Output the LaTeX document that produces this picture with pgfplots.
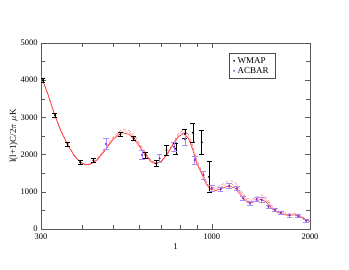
\documentclass[border=0pt]{standalone}
\usepackage{pgfplots}
\pgfplotsset{compat=1.18}
\usepackage{fontspec}
\setmainfont{Liberation Serif}
\definecolor{acbarbar}{RGB}{170,140,245}
\definecolor{acbarpt}{RGB}{120,40,220}
\definecolor{fitred}{RGB}{255,60,60}
\definecolor{fitpink}{RGB}{255,130,140}
\begin{document}
\begin{tikzpicture}
\begin{axis}[
  scale only axis, width=269bp, height=186bp,
  xmode=log, xmin=300, xmax=2000, ymin=0, ymax=5000,
  log basis x=10,
  xtick={300,1000,2000}, xticklabels={300,1000,2000},
  minor xtick={400,500,600,700,800,900},
  ytick={0,1000,2000,3000,4000,5000},
  minor ytick={500,1500,2500,3500,4500},
  tick align=inside, major tick length=5bp, minor tick length=4bp,
  axis line style={black!65}, every tick/.style={black!65},
  tick label style={font=\fontsize{8.5}{10}\selectfont},
  xticklabel style={yshift=-1.5bp},
  /pgf/number format/assume math mode=true,
  scaled y ticks=false, yticklabel style={/pgf/number format/1000 sep={}},
  xlabel={1}, ylabel={l(l+1)C/2$\pi$ $\mu$K},
  label style={font=\fontsize{9}{10}\selectfont},
  xlabel style={yshift=3bp},
  ylabel style={yshift=-4bp},
  legend style={at={(0.70,0.946)}, anchor=north west, font=\fontsize{9}{10}\selectfont,
    draw=black!70, inner xsep=4pt, inner ysep=2pt, row sep=-1.5pt,
    nodes={inner xsep=3pt}},
  legend cell align=left,
  clip=true,
]
\addlegendimage{only marks, mark=*, mark size=0.6pt, black}
\addlegendentry{WMAP}
\addlegendimage{only marks, mark=*, mark size=0.6pt, acbarpt}
\addlegendentry{ACBAR}
% fit curves
\addplot[fitpink, densely dashed, line width=0.5pt, forget plot] coordinates {
(300,4120)(315,3630)(330,3080)(345,2650)(362,2270)(380,1970)(395,1810)(410,1735)(425,1760)(445,1880)(470,2150)(500,2490)(531,2680)(560,2640)(590,2420)(620,2110)(650,1860)(672,1770)(700,1830)(730,2030)(760,2310)(790,2560)(821,2670)(850,2530)(875,2240)(900,1860)(930,1570)(960,1290)(990,1130)(1030,1110)(1080,1200)(1130,1310)(1180,1250)(1230,1020)(1280,830)(1320,790)(1370,860)(1420,920)(1470,840)(1522,640)(1580,520)(1632,460)(1700,420)(1770,430)(1830,410)(1900,320)(1950,260)(2000,215)};
\addplot[fitred, densely dotted, line width=0.5pt, forget plot] coordinates {
(300,4120)(315,3625)(330,3080)(345,2645)(362,2265)(380,1965)(395,1805)(410,1730)(425,1750)(445,1865)(470,2125)(500,2455)(531,2635)(560,2590)(590,2370)(620,2075)(650,1840)(672,1758)(700,1820)(730,2015)(760,2285)(790,2520)(821,2620)(850,2475)(875,2185)(900,1810)(930,1535)(960,1255)(990,1100)(1030,1072)(1080,1150)(1130,1235)(1180,1175)(1230,960)(1280,780)(1320,745)(1370,810)(1420,860)(1470,780)(1522,600)(1580,490)(1632,435)(1700,395)(1770,402)(1830,390)(1900,305)(1950,250)(2000,208)};
\addplot[fitred, line width=0.7pt, forget plot] coordinates {
(300,4120)(315,3620)(330,3080)(345,2640)(362,2260)(380,1960)(395,1800)(410,1725)(425,1740)(445,1850)(470,2100)(500,2420)(531,2590)(560,2540)(590,2320)(620,2040)(650,1820)(672,1745)(700,1810)(730,2000)(760,2260)(790,2480)(821,2570)(850,2420)(875,2130)(900,1760)(930,1500)(960,1220)(990,1070)(1030,1035)(1080,1100)(1130,1160)(1180,1100)(1230,900)(1280,730)(1320,700)(1370,760)(1420,800)(1470,720)(1522,560)(1580,460)(1632,410)(1700,370)(1770,375)(1830,370)(1900,290)(1950,240)(2000,200)};
% WMAP
\addplot[only marks, mark=*, mark size=0.8pt, black, forget plot,
  error bars/.cd, y dir=both, y explicit,
  error bar style={black, line width=0.5pt},
  error mark options={rotate=90, mark size=2.5pt, black, line width=0.5pt}]
table[x=l, y=v, y error=e] {
l v e
304 4000 50
331 3060 50
362 2285 50
396 1790 45
434 1850 50
525 2540 60
577 2440 65
627 1990 75
676 1770 80
727 2120 130
776 2160 145
828 2560 120
875 2590 260
932 2330 320
981 1406 405
};
% ACBAR
\addplot[only marks, mark=*, mark size=0.8pt, acbarpt, forget plot,
  error bars/.cd, y dir=both, y explicit,
  error bar style={acbarbar, line width=0.6pt},
  error mark options={rotate=90, mark size=2.8pt, acbarbar, line width=0.6pt}]
table[x=l, y=v, y error=e] {
l v e
474 2285 140
612 1990 120
692 1900 110
766 2212 110
828 2411 150
887 1855 110
944 1452 110
1000 1094 70
1065 1067 60
1130 1156 60
1194 1094 60
1246 825 60
1309 690 50
1372 798 60
1423 780 60
1492 600 50
1564 511 45
1632 440 45
1732 366 40
1836 350 40
1946 223 40
};
\end{axis}
\path (current axis.south west) ++(-41bp,-41bp) rectangle ++(349bp,270bp);
\end{tikzpicture}
\end{document}
